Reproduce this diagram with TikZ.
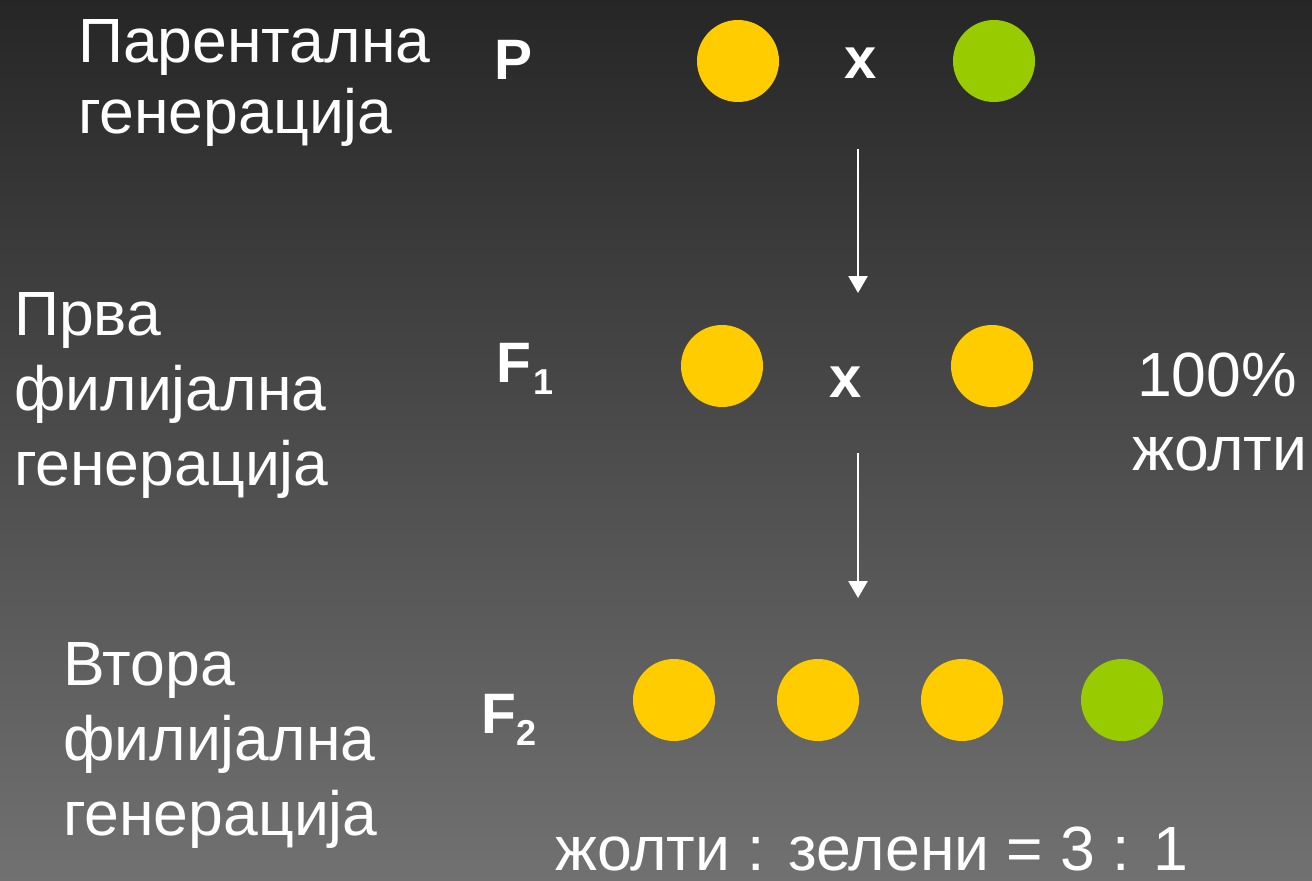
\documentclass[tikz,border=0pt]{standalone}
\usepackage{fontspec}
\setmainfont{Liberation Sans}
\usetikzlibrary{arrows.meta}

\definecolor{bgtop}{RGB}{38,38,38}
\definecolor{bgbottom}{RGB}{113,113,113}
\definecolor{peayellow}{RGB}{255,204,0}
\definecolor{peagreen}{RGB}{153,204,0}

\tikzset{
  txt/.style={text=white, inner sep=0pt, anchor=base west,
              font=\fontsize{62.5bp}{73bp}\selectfont},
  lbl/.style={text=white, inner sep=0pt, anchor=base west,
              font=\bfseries\fontsize{57bp}{60bp}\selectfont},
  sub/.style={text=white, inner sep=0pt, anchor=base west,
              font=\bfseries\fontsize{36bp}{40bp}\selectfont},
  cross/.style={text=white, inner sep=0pt, anchor=base,
                font=\bfseries\fontsize{58bp}{60bp}\selectfont},
  pea/.style={circle, minimum size=82bp, inner sep=0pt, draw=none},
  yellowpea/.style={pea, fill=peayellow},
  greenpea/.style={pea, fill=peagreen},
  genarrow/.style={white, line width=2.5bp,
                   -{Triangle[width=19bp,length=17bp]}}
}

\begin{document}
\begin{tikzpicture}[x=1bp, y=-1bp]
  % background
  \useasboundingbox (0,0) rectangle (1312,880);
  \shade[top color=bgtop, bottom color=bgbottom] (0,0) rectangle (1312,880);

  % generation names
  \node[txt] (p1) at (78,62) {Парентална};
  \node[txt] (p2) at (78,133) {генерација};

  \node[txt] (fa1) at (14,335) {Прва};
  \node[txt] (fa2) at (14,410) {филијална};
  \node[txt] (fa3) at (14,485) {генерација};

  \node[txt] (fb1) at (63,685) {Втора};
  \node[txt] (fb2) at (63,760) {филијална};
  \node[txt] (fb3) at (63,835) {генерација};

  % generation symbols
  \node[lbl] (P) at (494,79) {P};
  \node[lbl] (F1) at (496,382) {F};
  \node[sub] (F1s) at (533,394) {1};
  \node[lbl] (F2) at (481,733) {F};
  \node[sub] (F2s) at (516,745) {2};

  % parental cross
  \node[yellowpea] (py) at (738,61) {};
  \node[cross] (px) at (861,78) {x};
  \node[greenpea] (pg) at (994,61) {};

  % first filial cross
  \node[yellowpea] (f1a) at (722,366) {};
  \node[cross] (f1x) at (846,397) {x};
  \node[yellowpea] (f1b) at (992,366) {};

  % second filial generation
  \node[yellowpea] (f2a) at (674,700) {};
  \node[yellowpea] (f2b) at (818,700) {};
  \node[yellowpea] (f2c) at (962,700) {};
  \node[greenpea] (f2d) at (1122,700) {};

  % ratios
  \node[txt] (r1) at (1137,396) {100\%};
  \node[txt] (r2) at (1132,470) {жолти};
  \node[txt] (r3) at (555,870) {жолти : зелени = 3 : 1};

  % arrows between generations
  \coordinate (a1s) at (858,149);
  \coordinate (a1e) at (858,293);
  \coordinate (a2s) at (858,453);
  \coordinate (a2e) at (858,598);
  \draw[genarrow] (a1s) -- (a1e);
  \draw[genarrow] (a2s) -- (a2e);
\end{tikzpicture}
\end{document}
